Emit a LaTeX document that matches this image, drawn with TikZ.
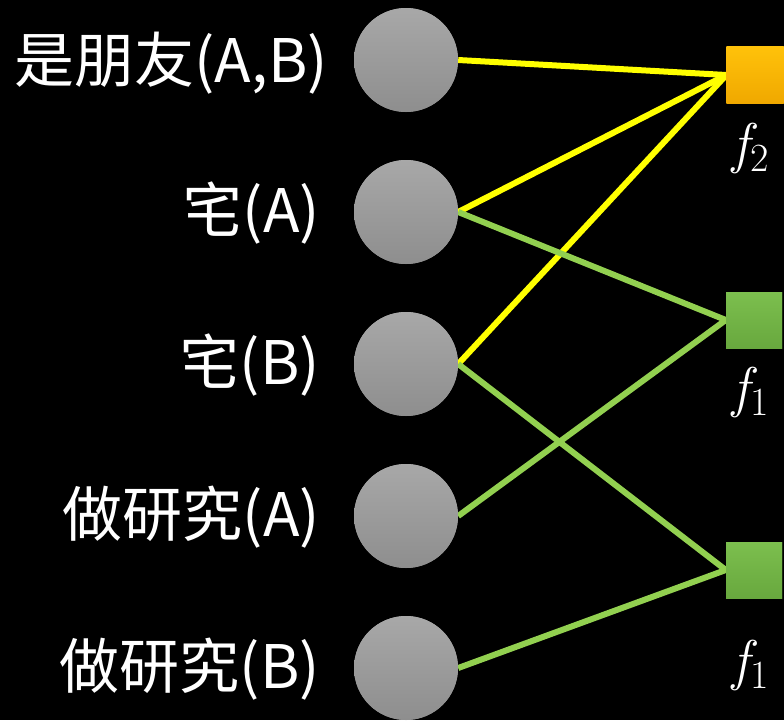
\documentclass[tikz,border=0pt]{standalone}
\usepackage{fontspec}
\setmainfont{Carlito}
\newfontfamily\cjk{Noto Sans CJK TC}
\newfontfamily\lmr{Latin Modern Roman}
\definecolor{yl}{HTML}{FFFF00}
\definecolor{gr}{HTML}{92D050}
\definecolor{cgtop}{HTML}{A8A8A8}
\definecolor{cgbot}{HTML}{8E8E8E}
\definecolor{ortop}{HTML}{FFC20A}
\definecolor{orbot}{HTML}{F0A800}
\definecolor{grtop}{HTML}{7CBF4E}
\definecolor{grbot}{HTML}{68A83E}
\newcommand{\fsub}[1]{{\itshape f}\hspace{1pt}\raisebox{-9pt}{\fontsize{40}{40}\selectfont #1}}
\tikzset{
  var/.style={circle, minimum size=104pt, inner sep=0pt, top color=cgtop, bottom color=cgbot},
  facO/.style={rectangle, minimum size=57pt, inner sep=0pt, top color=ortop, bottom color=orbot},
  facG/.style={rectangle, minimum size=56pt, inner sep=0pt, top color=grtop, bottom color=grbot},
  lbl/.style={anchor=east, text=white, font=\cjk\fontsize{60}{66}\selectfont, inner sep=0pt},
  flbl/.style={text=white, font=\lmr\fontsize{56}{60}\selectfont, inner sep=0pt},
  ylw/.style={draw=yl, line width=6pt},
  grn/.style={draw=gr, line width=6pt},
}
\begin{document}
\begin{tikzpicture}[x=1pt,y=-1pt]
\fill[black] (0,0) rectangle (784,720);
\useasboundingbox (0,0) rectangle (784,720);
\node[var] (v1) at (406,60) {};
\node[var] (v2) at (406,212) {};
\node[var] (v3) at (406,364) {};
\node[var] (v4) at (406,516) {};
\node[var] (v5) at (406,668) {};
\node[facO] (f2) at (755,75) {};
\node[facG] (fa) at (754,320) {};
\node[facG] (fb) at (754,570) {};
\draw[ylw] (v1.east) -- (f2.west);
\draw[ylw] (v2.east) -- (f2.west);
\draw[ylw] (v3.east) -- (f2.west);
\draw[grn] (v2.east) -- (fa.west);
\draw[grn] (v4.east) -- (fa.west);
\draw[grn] (v3.east) -- (fb.west);
\draw[grn] (v5.east) -- (fb.west);
\node[var] at (v1) {};
\node[var] at (v2) {};
\node[var] at (v3) {};
\node[var] at (v4) {};
\node[var] at (v5) {};
\node[facO] at (f2) {};
\node[facG] at (fa) {};
\node[facG] at (fb) {};
\node[lbl] (l1) at (328,63) {是朋友(A,B)};
\node[lbl] (l2) at (320,213) {宅(A)};
\node[lbl] (l3) at (320,365) {宅(B)};
\node[lbl] (l4) at (320,517) {做研究(A)};
\node[lbl] (l5) at (320,669) {做研究(B)};
\node[flbl] (t1) at (751,148) {\fsub{2}};
\node[flbl] (t2) at (751,392) {\fsub{1}};
\node[flbl] (t3) at (751,665) {\fsub{1}};
\end{tikzpicture}
\end{document}
